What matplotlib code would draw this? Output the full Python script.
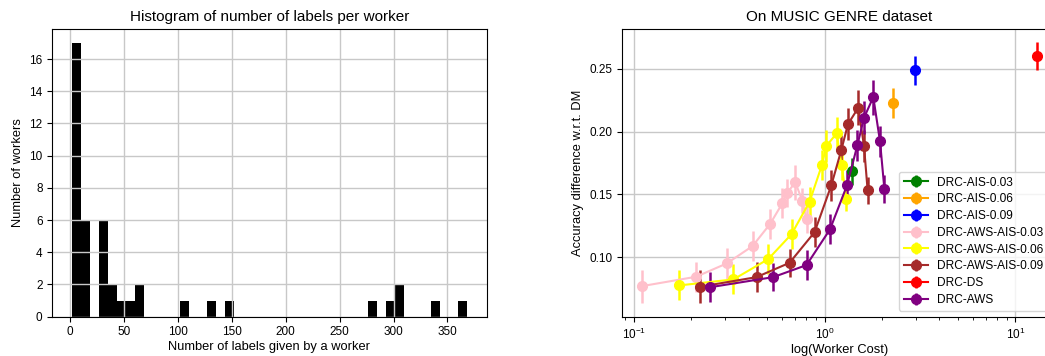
import numpy as np
import matplotlib
matplotlib.use("Agg")
import matplotlib.pyplot as plt

plt.rcParams['font.family'] = ['Liberation Sans', 'DejaVu Sans']

# --- histogram data (44 bins between 2 and 368 labels) ---
hist_min, hist_max, hist_bins = 2, 368, 44
bin_counts = [17, 6, 0, 6, 2, 1, 1, 2, 0, 0, 0, 0, 1, 0, 0, 1, 0, 1, 0, 0, 0, 0,
              0, 0, 0, 0, 0, 0, 0, 0, 0, 0, 0, 1, 0, 1, 2, 0, 0, 0, 1, 0, 0, 1]

# --- accuracy vs cost data ---
series_names = ["DRC-AIS-0.03", "DRC-AIS-0.06", "DRC-AIS-0.09",
                "DRC-AWS-AIS-0.03", "DRC-AWS-AIS-0.06", "DRC-AWS-AIS-0.09",
                "DRC-DS", "DRC-AWS"]
series_colors = ["green", "orange", "blue", "pink", "yellow", "brown", "red", "purple"]

ais_003_cost = [1.386]
ais_003_acc = [0.1682]
ais_003_err = [0.011]

ais_006_cost = [2.294]
ais_006_acc = [0.2226]
ais_006_err = [0.0117]

ais_009_cost = [2.99]
ais_009_acc = [0.2487]
ais_009_err = [0.0115]

aws_ais_003_cost = [0.110, 0.212, 0.307, 0.419, 0.519, 0.600, 0.637, 0.702, 0.764, 0.804]
aws_ais_003_acc = [0.0769, 0.0844, 0.0950, 0.1088, 0.1266, 0.1428, 0.1513, 0.1595, 0.1451, 0.1300]
aws_ais_003_err = [0.013, 0.012, 0.012, 0.012, 0.012, 0.012, 0.011, 0.014, 0.010, 0.011]

aws_ais_006_cost = [0.173, 0.333, 0.506, 0.671, 0.834, 0.968, 1.020, 1.156, 1.228, 1.300]
aws_ais_006_acc = [0.0775, 0.0823, 0.0984, 0.1183, 0.1441, 0.1733, 0.1884, 0.1985, 0.1733, 0.1465]
aws_ais_006_err = [0.012, 0.012, 0.012, 0.012, 0.012, 0.012, 0.013, 0.013, 0.012, 0.010]

aws_ais_009_cost = [0.2216, 0.4396, 0.655, 0.886, 1.084, 1.223, 1.326, 1.502, 1.609, 1.681]
aws_ais_009_acc = [0.0764, 0.0841, 0.0955, 0.1199, 0.1571, 0.1852, 0.2059, 0.2190, 0.1884, 0.1531]
aws_ais_009_err = [0.013, 0.012, 0.011, 0.012, 0.012, 0.012, 0.013, 0.014, 0.013, 0.011]

ds_cost = [12.92]
ds_acc = [0.260]
ds_err = [0.011]

aws_cost = [0.252, 0.538, 0.804, 1.067, 1.310, 1.484, 1.609, 1.800, 1.952, 2.057]
aws_acc = [0.0761, 0.0841, 0.0937, 0.1221, 0.1571, 0.1889, 0.2110, 0.2274, 0.1921, 0.1544]
aws_err = [0.012, 0.011, 0.012, 0.012, 0.012, 0.012, 0.013, 0.014, 0.012, 0.011]

series = [
    (ais_003_cost, ais_003_acc, ais_003_err),
    (ais_006_cost, ais_006_acc, ais_006_err),
    (ais_009_cost, ais_009_acc, ais_009_err),
    (aws_ais_003_cost, aws_ais_003_acc, aws_ais_003_err),
    (aws_ais_006_cost, aws_ais_006_acc, aws_ais_006_err),
    (aws_ais_009_cost, aws_ais_009_acc, aws_ais_009_err),
    (ds_cost, ds_acc, ds_err),
    (aws_cost, aws_acc, aws_err),
]

fig = plt.figure(figsize=(10.45, 3.56), dpi=100)
ax_hist = fig.add_axes([0.0500, 0.1104, 0.4157, 0.8073])
ax_acc = fig.add_axes([0.5952, 0.1104, 0.4157, 0.8073])  # runs past the right edge, as in the source

# --- Histogram ---
edges = np.linspace(hist_min, hist_max, hist_bins + 1)
centers = (edges[:-1] + edges[1:]) / 2
ax_hist.hist(centers, bins=edges, weights=bin_counts, color="black")
ax_hist.set_xlim(-16.3, 386.3)
ax_hist.set_ylim(0, 17.85)
ax_hist.set_yticks(range(0, 17, 2))
ax_hist.grid(True, color="#c8c8c8", linewidth=1.0)
ax_hist.set_title("Histogram of number of labels per worker", fontsize=11)
ax_hist.set_xlabel("Number of labels given by a worker", fontsize=9.3, labelpad=2)
ax_hist.set_ylabel("Number of workers", fontsize=9.3)
ax_hist.tick_params(labelsize=8.5)

# --- Accuracy difference vs cost ---
for name, color, (cost, acc, err) in zip(series_names, series_colors, series):
    ax_acc.errorbar(cost, acc, yerr=err, color=color, marker="o", markersize=7,
                    linewidth=1.5, elinewidth=1.8, label=name)
ax_acc.set_xscale("log")
ax_acc.set_xlim(0.0867, 16.4)
ax_acc.set_ylim(0.0526, 0.2814)
ax_acc.set_yticks([0.10, 0.15, 0.20, 0.25])
ax_acc.grid(True, color="#c8c8c8", linewidth=1.0)
ax_acc.set_title("On MUSIC GENRE dataset", fontsize=11)
ax_acc.set_xlabel("log(Worker Cost)", fontsize=9.3, labelpad=2)
ax_acc.set_ylabel("Accuracy difference w.r.t. DM", fontsize=9.3)
ax_acc.tick_params(labelsize=8.5)
ax_acc.legend(loc="lower right", fontsize=8.6, labelspacing=0.4,
              bbox_to_anchor=(0.995, 0.0))

fig.savefig("out.png", dpi=100)
